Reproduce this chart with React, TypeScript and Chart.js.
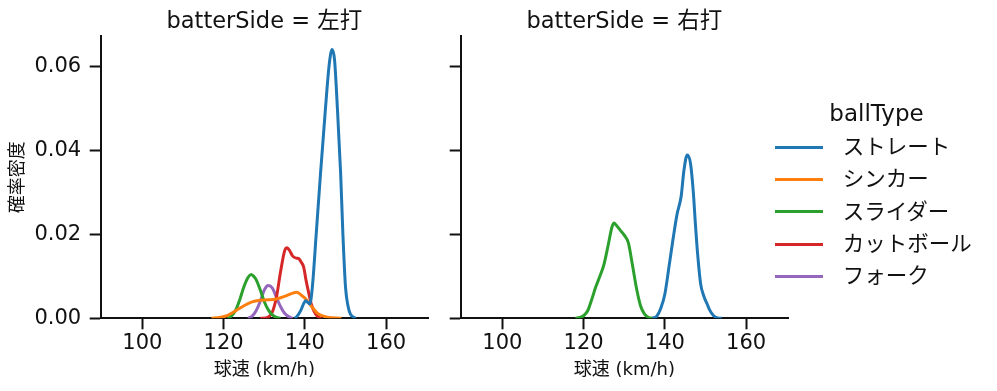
import React, { useEffect, useRef } from "react";
import { Chart, registerables } from "chart.js";

Chart.register(...registerables);

// ---------- data ----------
const ballTypes = ["ストレート", "シンカー", "スライダー", "カットボール", "フォーク"];
const colors = ["#1f77b4", "#ff7f0e", "#2ca02c", "#d62728", "#9467bd"];
const panelTitles = ["batterSide = 左打", "batterSide = 右打"];
const legendTitle = "ballType";
const xAxisLabel = "球速 (km/h)";
const yAxisLabel = "確率密度";
const xTicks = [100, 120, 140, 160];
const yTicks = [0, 0.02, 0.04, 0.06];
const xMin = 89.75;
const xMax = 170.3;
const yMax = 0.0672;

// 左打 panel
const leftStraightX = [137.5, 138.0, 139.0, 139.7, 140.2, 140.7, 141.2, 141.8, 142.8, 143.85, 145.1, 146.0, 146.7, 147.3, 148.0, 148.8, 149.35, 150.0, 150.6, 151.2, 152.5];
const leftStraightY = [0, 0.0004, 0.0019, 0.0035, 0.0042, 0.0038, 0.0034, 0.007, 0.0202, 0.0345, 0.0504, 0.0605, 0.064, 0.0615, 0.05, 0.0345, 0.0202, 0.0074, 0.003, 0.001, 0];

const leftSinkerX = [117, 119, 121, 123, 125, 127, 129, 131, 133, 135, 137, 138, 139, 140, 141, 142, 143, 144, 145, 146, 148, 149];
const leftSinkerY = [0, 0.0002, 0.0007, 0.0018, 0.003, 0.0039, 0.0043, 0.0044, 0.0046, 0.0052, 0.006, 0.0062, 0.0056, 0.0048, 0.0036, 0.0024, 0.0013, 0.0007, 0.0004, 0.0002, 0.00005, 0];

const leftSliderX = [121, 122, 123, 124, 125, 126, 126.8, 127.5, 128, 129, 130, 131, 132, 133, 134];
const leftSliderY = [0, 0.0006, 0.002, 0.0045, 0.0075, 0.0097, 0.0104, 0.0099, 0.0092, 0.0068, 0.004, 0.002, 0.0008, 0.0002, 0];

const leftCutterX = [129, 131, 132, 133, 134, 135, 135.6, 136.2, 137, 138, 138.5, 139, 139.7, 140.3, 141, 141.6, 142.2, 143, 144];
const leftCutterY = [0, 0.0003, 0.0015, 0.005, 0.011, 0.016, 0.0168, 0.0162, 0.0148, 0.0143, 0.0142, 0.0135, 0.0122, 0.009, 0.0058, 0.0033, 0.0018, 0.0006, 0];

const leftForkX = [126, 127, 128, 129, 130, 131, 132, 133, 134, 135, 136, 137];
const leftForkY = [0, 0.0005, 0.0018, 0.004, 0.0067, 0.0078, 0.0072, 0.005, 0.0028, 0.0012, 0.0004, 0];

// 右打 panel
const rightStraightX = [137, 138, 139, 140, 141, 142, 143, 144, 144.7, 145.5, 146.3, 147, 147.5, 148, 148.8, 149.5, 150.4, 151, 152, 153, 154];
const rightStraightY = [0, 0.0005, 0.0024, 0.0058, 0.0122, 0.0188, 0.0248, 0.029, 0.0353, 0.0389, 0.0369, 0.03, 0.0226, 0.016, 0.0082, 0.0055, 0.0034, 0.002, 0.0006, 0.0001, 0];

const rightSliderX = [118, 119, 120, 121, 122, 123, 124, 125, 126, 127, 127.5, 128, 129, 130, 131, 132, 133, 134, 135, 136, 137];
const rightSliderY = [0, 0.0002, 0.0006, 0.0018, 0.0045, 0.0075, 0.01, 0.0128, 0.0172, 0.0218, 0.0227, 0.0222, 0.021, 0.0198, 0.018, 0.0128, 0.0072, 0.003, 0.001, 0.0002, 0];

// ---------- helpers ----------
const FONT = "'DejaVu Sans', 'Noto Sans CJK JP', sans-serif";

function pts(xs: number[], ys: number[]) {
  return xs.map((x, i) => ({ x, y: ys[i] }));
}

type Series = { label: string; color: string; x: number[]; y: number[] };

const leftSeries: Series[] = [
  { label: ballTypes[0], color: colors[0], x: leftStraightX, y: leftStraightY },
  { label: ballTypes[1], color: colors[1], x: leftSinkerX, y: leftSinkerY },
  { label: ballTypes[2], color: colors[2], x: leftSliderX, y: leftSliderY },
  { label: ballTypes[3], color: colors[3], x: leftCutterX, y: leftCutterY },
  { label: ballTypes[4], color: colors[4], x: leftForkX, y: leftForkY },
];
const rightSeries: Series[] = [
  { label: ballTypes[0], color: colors[0], x: rightStraightX, y: rightStraightY },
  { label: ballTypes[2], color: colors[2], x: rightSliderX, y: rightSliderY },
];

function makeConfig(series: Series[], showYLabels: boolean, yWidth: number, padRight: number): any {
  return {
    type: "line",
    data: {
      datasets: series.map((s) => ({
        label: s.label,
        data: pts(s.x, s.y),
        borderColor: s.color,
        backgroundColor: s.color,
        borderWidth: 3,
        pointRadius: 0,
        fill: false,
        cubicInterpolationMode: "monotone",
      })),
    },
    options: {
      responsive: false,
      animation: false,
      devicePixelRatio: 1,
      layout: { padding: { top: 36, right: padRight, left: 0, bottom: 0 } },
      plugins: { legend: { display: false }, tooltip: { enabled: false }, title: { display: false } },
      scales: {
        x: {
          type: "linear",
          min: xMin,
          max: xMax,
          afterBuildTicks: (s: any) => {
            s.ticks = xTicks.map((v) => ({ value: v }));
          },
          afterFit: (s: any) => {
            s.height = 72.7;
          },
          ticks: {
            color: "#111",
            font: { family: FONT, size: 21 },
            padding: 2,
            maxRotation: 0,
            autoSkip: false,
            callback: (v: any) => String(v),
          },
          grid: { drawOnChartArea: false, drawTicks: true, tickLength: 11, tickWidth: 2, tickColor: "#111" },
          border: { display: true, color: "#111", width: 2 },
          title: {
            display: true,
            text: xAxisLabel,
            color: "#111",
            font: { family: FONT, size: 18 },
            padding: { top: 0, bottom: 10 },
          },
        },
        y: {
          type: "linear",
          min: 0,
          max: yMax,
          afterBuildTicks: (s: any) => {
            s.ticks = yTicks.map((v) => ({ value: v }));
          },
          afterFit: (s: any) => {
            s.width = yWidth;
          },
          ticks: {
            color: showYLabels ? "#111" : "rgba(0,0,0,0)",
            font: { family: FONT, size: 21 },
            padding: 8.5,
            callback: (v: any) => Number(v).toFixed(2),
          },
          grid: { drawOnChartArea: false, drawTicks: true, tickLength: 11, tickWidth: 2, tickColor: "#111" },
          border: { display: true, color: "#111", width: 2 },
          title: {
            display: showYLabels,
            text: yAxisLabel,
            color: "#111",
            font: { family: FONT, size: 18 },
            padding: { top: 8, bottom: 0 },
          },
        },
      },
    },
  };
}

function Panel(props: { series: Series[]; left: number; width: number; showY: boolean; yWidth: number; padRight: number }) {
  const ref = useRef<HTMLCanvasElement | null>(null);
  useEffect(() => {
    if (!ref.current) return;
    const chart = new Chart(ref.current, makeConfig(props.series, props.showY, props.yWidth, props.padRight));
    return () => chart.destroy();
  }, []);
  return (
    <canvas
      ref={ref}
      width={props.width}
      height={391}
      style={{ position: "absolute", left: props.left, top: 0, width: props.width, height: 391 }}
    />
  );
}

export default function App() {
  const titleStyle: React.CSSProperties = {
    position: "absolute",
    top: 4,
    fontFamily: FONT,
    fontSize: 22.5,
    lineHeight: "32px",
    color: "#111",
    textAlign: "center",
    whiteSpace: "nowrap",
  };
  return (
    <div style={{ position: "absolute", left: 0, top: 0, width: 997, height: 391, background: "#fff", overflow: "hidden" }}>
      <Panel series={leftSeries} left={0} width={445} showY={true} yWidth={100.7} padRight={17} />
      <Panel series={rightSeries} left={445} width={552} showY={false} yWidth={15.7} padRight={209} />
      <div style={{ ...titleStyle, left: 100.7, width: 327.3 }}>{panelTitles[0]}</div>
      <div style={{ ...titleStyle, left: 460.7, width: 327.3 }}>{panelTitles[1]}</div>
      <div
        style={{
          position: "absolute",
          left: 800,
          width: 153,
          top: 97,
          textAlign: "center",
          fontFamily: FONT,
          fontSize: 23,
          lineHeight: "32px",
          color: "#111",
        }}
      >
        {legendTitle}
      </div>
      {ballTypes.map((b, i) => (
        <div key={b} style={{ position: "absolute", left: 775, top: 131 + i * 32.3, height: 32, width: 222 }}>
          <div style={{ position: "absolute", left: 0, top: 14.8, width: 48, height: 3, background: colors[i] }} />
          <div
            style={{
              position: "absolute",
              left: 67.7,
              top: 0,
              fontFamily: FONT,
              fontSize: 21.5,
              lineHeight: "32px",
              color: "#111",
              whiteSpace: "nowrap",
            }}
          >
            {b}
          </div>
        </div>
      ))}
    </div>
  );
}
